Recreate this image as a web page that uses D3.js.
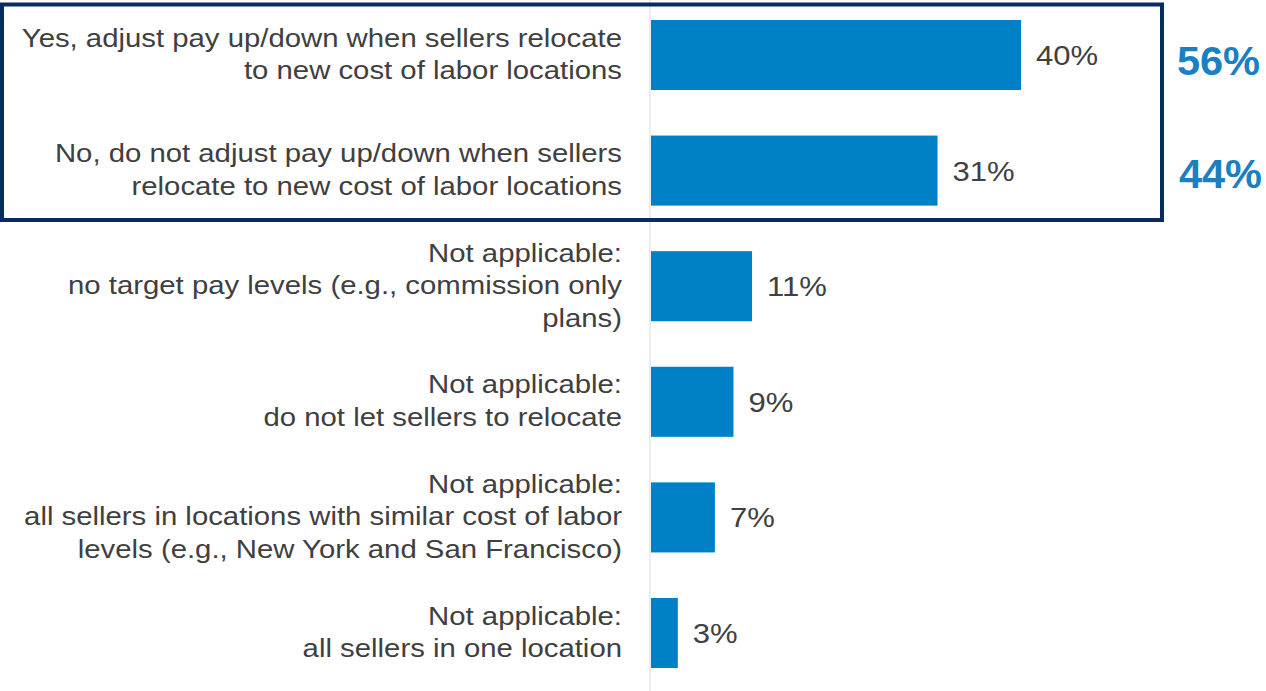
<!DOCTYPE html>
<html>
<head>
<meta charset="utf-8">
<script src="https://cdn.jsdelivr.net/npm/d3@7"></script>
<style>
  html, body { margin: 0; padding: 0; background: #fff; }
  svg { display: block; }
  text { font-family: "Liberation Sans", Arial, sans-serif; }
</style>
</head>
<body>
<svg id="chart" width="1266" height="691"></svg>
<script>
const categories = [
  ["Yes, adjust pay up/down when sellers relocate", "to new cost of labor locations"],
  ["No, do not adjust pay up/down when sellers", "relocate to new cost of labor locations"],
  ["Not applicable:", "no target pay levels (e.g., commission only", "plans)"],
  ["Not applicable:", "do not let sellers to relocate"],
  ["Not applicable:", "all sellers in locations with similar cost of labor", "levels (e.g., New York and San Francisco)"],
  ["Not applicable:", "all sellers in one location"]
];
const values = [40, 31, 11, 9, 7, 3];
const valueLabels = ["40%", "31%", "11%", "9%", "7%", "3%"];
const totalLabels = ["56%", "44%"];

const svg = d3.select("#chart");
const ids = d3.range(categories.length);
const stretch = 1.15;

const x = d3.scaleLinear().domain([0, 40]).range([650, 1021]);
const y = d3.scaleBand().domain(ids).range([-2.8, 690.8]).paddingInner(0.394).paddingOuter(0.197);

// axis line
svg.append("line")
  .attr("x1", x(0)).attr("x2", x(0))
  .attr("y1", 0).attr("y2", 691)
  .attr("stroke", "#e4e4ee").attr("stroke-width", 1.5);

// bars
svg.selectAll("rect.bar").data(ids).join("rect")
  .attr("class", "bar")
  .attr("x", x(0) + 1)
  .attr("y", i => y(i))
  .attr("width", i => x(values[i]) - x(0) - 1)
  .attr("height", y.bandwidth())
  .attr("fill", "#0080c6");

// value labels
svg.selectAll("text.val").data(ids).join("text")
  .attr("class", "val")
  .attr("transform", i => `translate(${x(values[i]) + 15},${y(i) + y.bandwidth() / 2}) scale(1.13,1)`)
  .attr("dy", "0.36em")
  .attr("font-size", 27.5)
  .attr("fill", "#404040")
  .text(i => valueLabels[i]);

// category labels
const lh = 32.5;
const lab = svg.selectAll("text.cat").data(ids).join("text")
  .attr("class", "cat")
  .attr("text-anchor", "end")
  .attr("font-size", 25.5)
  .attr("fill", "#404040")
  .attr("transform", i => `translate(622,${y(i) + y.bandwidth() / 2}) scale(${stretch},1)`);
lab.each(function(i) {
  const lines = categories[i];
  const t = d3.select(this);
  lines.forEach((ln, k) => {
    t.append("tspan")
      .attr("x", 0)
      .attr("y", (k - (lines.length - 1) / 2) * lh - 1)
      .attr("dy", "0.35em")
      .text(ln);
  });
});

// highlight box
svg.append("rect")
  .attr("x", 2).attr("y", 4.5)
  .attr("width", 1160).attr("height", 215.5)
  .attr("fill", "none")
  .attr("stroke", "#072c5f")
  .attr("stroke-width", 4);

// totals
svg.selectAll("text.tot").data(totalLabels).join("text")
  .attr("class", "tot")
  .attr("x", (d, i) => [1260, 1262][i])
  .attr("y", (d, i) => [60, 173][i])
  .attr("dy", "0.36em")
  .attr("text-anchor", "end")
  .attr("font-size", 41.5)
  .attr("font-weight", "bold")
  .attr("fill", "#1a80c4")
  .text(d => d);
</script>
</body>
</html>
